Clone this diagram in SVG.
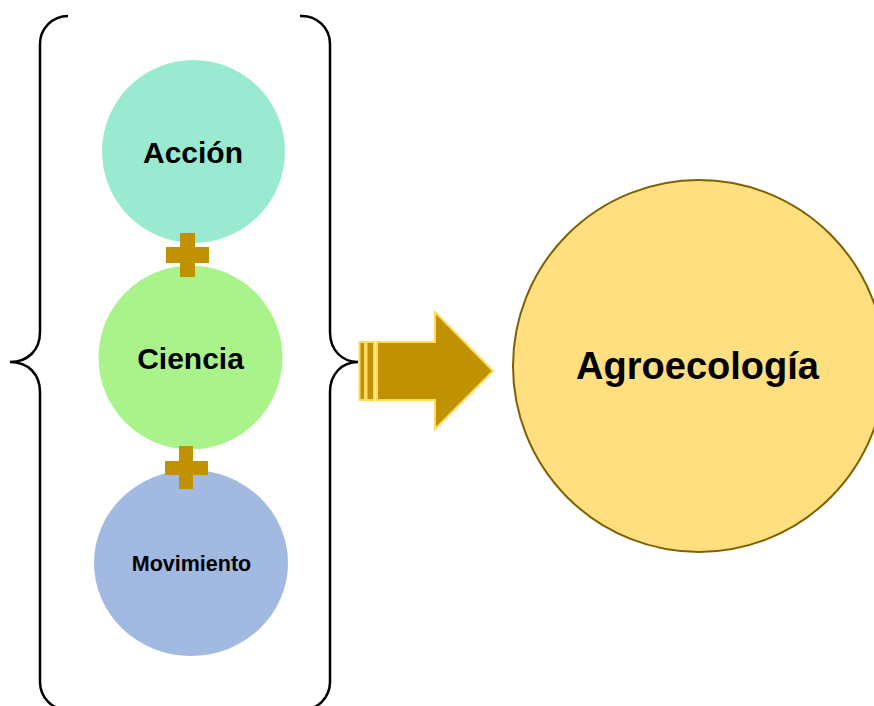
<svg xmlns="http://www.w3.org/2000/svg" width="874" height="706" viewBox="0 0 874 706">
<style>
.lbl{font-family:"Liberation Sans",Arial,sans-serif;font-weight:bold;fill:#000;text-anchor:middle}
.brace{fill:none;stroke:#000;stroke-width:2.5}
.gold{fill:#C09100;stroke:#FFD966;stroke-width:2}
.plus{fill:#C09100}
</style>
<rect width="874" height="706" fill="#fff"/>
<g id="brace-left"><path class="brace" d="M68,16 A28,28 0 0 0 40,44 V332 C40,350 28,362 10,362 C28,362 40,374 40,392 V682 A28,28 0 0 0 68,710"/></g>
<g id="brace-right"><path class="brace" d="M300,16 A28,28 0 0 1 330,44 V332 C330,350 342,362 358,362 C342,362 330,374 330,392 V682 A28,28 0 0 1 302,710"/></g>
<g id="accion"><circle cx="193.5" cy="151.5" r="91.5" fill="#99EAD1"/><text class="lbl" x="193" y="163" font-size="30">Acción</text></g>
<g id="ciencia"><circle cx="190.5" cy="357.5" r="92" fill="#AAF38B"/><text class="lbl" x="190.5" y="369" font-size="30">Ciencia</text></g>
<g id="movimiento"><ellipse cx="191" cy="563" rx="97" ry="93" fill="#A2B9E1"/><text class="lbl" x="191.5" y="571" font-size="21.5">Movimiento</text></g>
<g id="plus1"><path class="plus" d="M180,233 H195 V247 H209 V263 H195 V277 H180 V263 H166 V247 H180 Z"/></g>
<g id="plus2"><path class="plus" d="M179,446 H193 V461 H208 V475 H193 V489 H179 V475 H165 V461 H179 Z"/></g>
<g id="connectors">
<rect class="gold" x="359.5" y="342" width="5.5" height="58"/>
<rect class="gold" x="366.5" y="342" width="7.5" height="58"/>
<path class="gold" d="M377,342 H435 V312 L493,371 L435,429 V400 H377 Z"/>
</g>
<g id="agroecologia"><circle cx="699" cy="366" r="186" fill="#FFDF80" stroke="#7F6000" stroke-width="2"/><text class="lbl" x="697.5" y="379" font-size="38">Agroecología</text></g>
</svg>
